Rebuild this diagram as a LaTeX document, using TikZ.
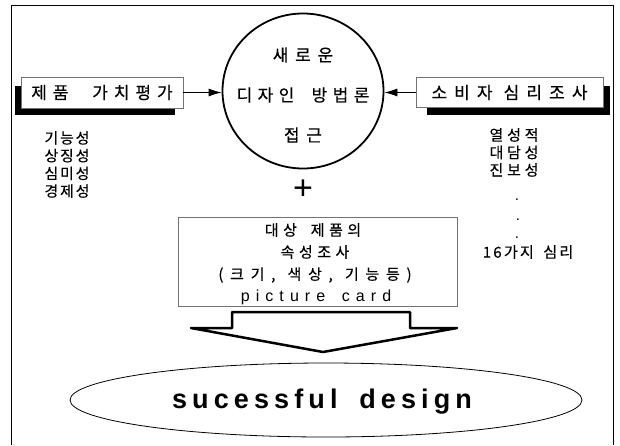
\documentclass[tikz,border=0pt]{standalone}
\usepackage{fontspec}
\setmainfont{Liberation Sans}
\newfontfamily\kr[FakeBold=0.4]{Noto Sans CJK KR}
\usetikzlibrary{shapes.geometric,arrows.meta}
\newcommand\krs[3]{\kr\fontsize{#1}{#2}\selectfont\addfontfeatures{LetterSpace=#3}}
\newcommand\lts[3]{\fontsize{#1}{#2}\selectfont\addfontfeatures{LetterSpace=#3}}
\begin{document}
\begin{tikzpicture}[x=1pt,y=-1pt,
  lbl/.style={inner sep=0pt, align=center},
  thinbox/.style={draw=black!55, line width=0.6pt, fill=white, inner sep=0pt},
  shadowbar/.style={fill=black},
  conn/.style={line width=0.8pt, -{Latex[length=13pt,width=8pt]}},
  bigarrow/.style={draw=black, line width=2.5pt, fill=white, line join=round}]
\useasboundingbox (0,0) rectangle (620,445);
% frame
\draw[line width=1pt] (11,445) -- (11,5) -- (613,5) -- (613,445);

% central circle
\node[ellipse, draw, line width=1.8pt, minimum width=161pt, minimum height=155pt, inner sep=0pt] (circ) at (303,91) {};
\node[lbl, font=\krs{17}{17}{40}] (c1) at (303,55) {새로운};
\node[lbl, font=\krs{17}{17}{32}] (c2) at (303,95) {디자인\hspace{8pt} 방법론};
\node[lbl, font=\krs{17}{17}{40}] (c3) at (303,135) {접근};

% left box with shadow
\fill[shadowbar] (15,86) rectangle (175,115);
\node[thinbox, minimum width=162pt, minimum height=31pt, font=\krs{17}{17}{35}] (lbox) at (102,92.5)
  {제품\hspace{14pt} 가치평가};
% right box with shadow
\fill[shadowbar] (427,86) rectangle (610,115);
\node[thinbox, minimum width=187pt, minimum height=30pt, font=\krs{17}{17}{42}] (rbox) at (509.5,92.5)
  {소비자 심리조사};

% connectors
\draw[conn] (lbox.east) -- (lbox.east -| circ.west);
\draw[conn] (rbox.west) -- (rbox.west -| circ.east);

% left list
\node[lbl, font=\krs{15}{17.7}{12}] (llist) at (67,164.5) {기능성\\상징성\\심미성\\경제성};
% right list
\node[lbl, font=\krs{15}{17.5}{25}] (rlist) at (514,152.5) {열성적\\대담성\\진보성};
\node[lbl, font=\fontsize{15}{15}\selectfont] (d1) at (517,200) {.};
\node[lbl, font=\fontsize{15}{15}\selectfont] (d2) at (518,220) {.};
\node[lbl, font=\fontsize{15}{15}\selectfont] (d3) at (517,238) {.};
\node[lbl, font=\krs{15}{15}{15}] (psy) at (528,252) {16가지\hspace{4pt} 심리};

% plus
\node[lbl, font=\fontsize{34}{34}\selectfont] (plus) at (303,190) {+};

% bottom box
\node[thinbox, minimum width=279pt, minimum height=89pt] (bbox) at (317.5,261.5) {};
\node[lbl, font=\krs{15}{15}{30}] (b1) at (313,230) {대상\hspace{6pt} 제품의};
\node[lbl, font=\krs{15}{15}{30}] (b2) at (315,252) {속성조사};
\node[lbl, font=\krs{15}{15}{45}] (b3) at (315,275) {(크기,\hspace{2pt} 색상,\hspace{2pt} 기능등)};
\node[lbl, font=\lts{16}{16}{38}] (b4) at (316,297) {picture\hspace{6pt} card};

% big arrow
\draw[bigarrow] (232,312) -- (410,312) -- (410,328) -- (457,328) -- (323,352)
  -- (191,328) -- (232,328) -- cycle;

% goal ellipse
\node[ellipse, draw, line width=0.8pt, minimum width=512pt, minimum height=74pt, inner sep=0pt] (goal) at (326,400) {};
\node[inner sep=0pt, anchor=base, font=\fontsize{27}{27}\selectfont\bfseries\addfontfeatures{LetterSpace=19}] (gtext) at (322,408) {sucessful\hspace{9pt} design};
\end{tikzpicture}
\end{document}
